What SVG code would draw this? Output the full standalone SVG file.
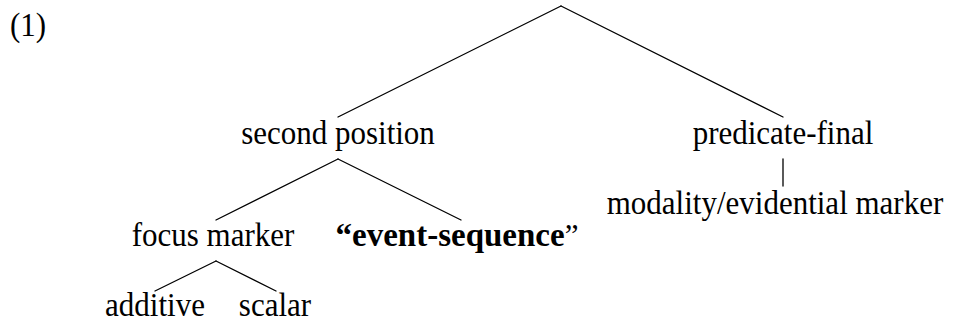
<svg xmlns="http://www.w3.org/2000/svg" width="960" height="323" viewBox="0 0 960 323">
  <style>
    .lbl { font-family: "Liberation Serif", "Times New Roman", serif; font-size: 31px; fill: #000; text-anchor: middle; }
    .num { font-family: "Liberation Serif", "Times New Roman", serif; font-size: 31px; fill: #000; }
    .b { font-weight: bold; font-size: 33px; }
    .edge { stroke: #000; stroke-width: 1.3; fill: none; stroke-linecap: round; }
  </style>
  <rect width="960" height="323" fill="#fff"/>

  <!-- example number; glyphs are drawn slightly tall (scale 1.1 on y) -->
  <text class="num" transform="translate(10,36) scale(1,1.1)">(1)</text>

  <!-- tree branches -->
  <g id="connectors">
    <path class="edge" d="M561,6 L338,117"/>
    <path class="edge" d="M561,6 L783,117"/>
    <path class="edge" d="M338,159 L216,220"/>
    <path class="edge" d="M338,159 L461,220"/>
    <path class="edge" d="M783,159 L783,186"/>
    <path class="edge" d="M216,261 L155,291"/>
    <path class="edge" d="M216,261 L276,291"/>
  </g>

  <g id="second-position"><text class="lbl" transform="translate(338,144) scale(1,1.1)">second position</text></g>
  <g id="predicate-final"><text class="lbl" transform="translate(783,144) scale(1,1.1)">predicate-final</text></g>
  <g id="modality-evidential"><text class="lbl" transform="translate(775,214) scale(1,1.1)">modality/evidential marker</text></g>
  <g id="focus-marker"><text class="lbl" transform="translate(213,246) scale(1,1.1)">focus marker</text></g>
  <g id="event-sequence"><text class="lbl" transform="translate(457,246) scale(1,1.05)"><tspan class="b">“event-sequence</tspan>”</text></g>
  <g id="additive"><text class="lbl" transform="translate(155,316) scale(1,1.1)">additive</text></g>
  <g id="scalar"><text class="lbl" transform="translate(275,316) scale(1,1.1)">scalar</text></g>
</svg>
